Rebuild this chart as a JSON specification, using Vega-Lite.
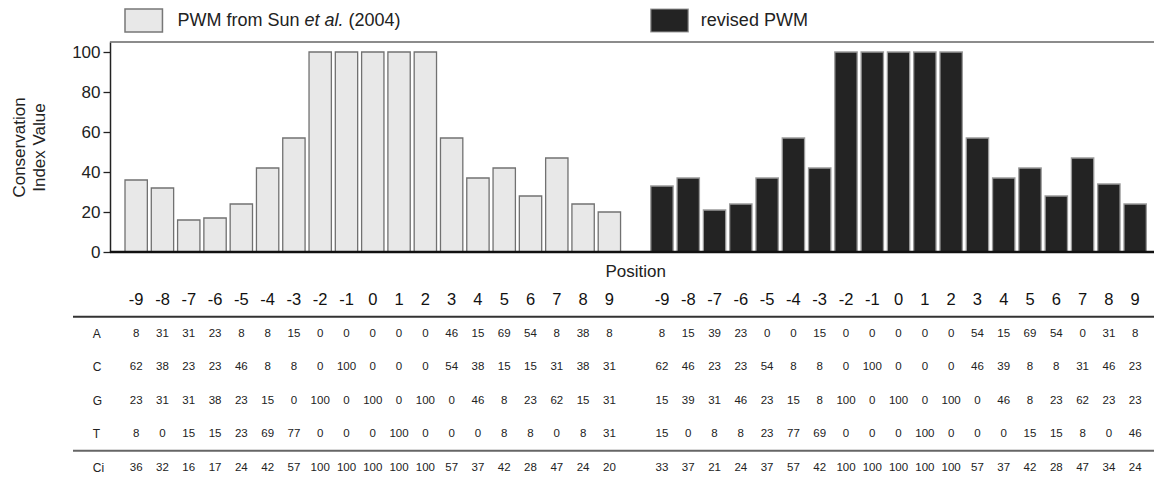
{
  "$schema": "https://vega.github.io/schema/vega-lite/v6.json",
  "width": 1081,
  "height": 435,
  "autosize": "none",
  "padding": {"left": 73, "top": 42, "right": 0, "bottom": 0},
  "background": "white",
  "config": {
    "view": {"stroke": null},
    "font": "Liberation Sans",
    "text": {"font": "Liberation Sans"}
  },
  "datasets": {
    "pwm": [
      {"set": "Sun", "key": "S-9", "pos": "-9", "A": 8, "C": 62, "G": 23, "T": 8, "Ci": 36},
      {"set": "Sun", "key": "S-8", "pos": "-8", "A": 31, "C": 38, "G": 31, "T": 0, "Ci": 32},
      {"set": "Sun", "key": "S-7", "pos": "-7", "A": 31, "C": 23, "G": 31, "T": 15, "Ci": 16},
      {"set": "Sun", "key": "S-6", "pos": "-6", "A": 23, "C": 23, "G": 38, "T": 15, "Ci": 17},
      {"set": "Sun", "key": "S-5", "pos": "-5", "A": 8, "C": 46, "G": 23, "T": 23, "Ci": 24},
      {"set": "Sun", "key": "S-4", "pos": "-4", "A": 8, "C": 8, "G": 15, "T": 69, "Ci": 42},
      {"set": "Sun", "key": "S-3", "pos": "-3", "A": 15, "C": 8, "G": 0, "T": 77, "Ci": 57},
      {"set": "Sun", "key": "S-2", "pos": "-2", "A": 0, "C": 0, "G": 100, "T": 0, "Ci": 100},
      {"set": "Sun", "key": "S-1", "pos": "-1", "A": 0, "C": 100, "G": 0, "T": 0, "Ci": 100},
      {"set": "Sun", "key": "S0", "pos": "0", "A": 0, "C": 0, "G": 100, "T": 0, "Ci": 100},
      {"set": "Sun", "key": "S1", "pos": "1", "A": 0, "C": 0, "G": 0, "T": 100, "Ci": 100},
      {"set": "Sun", "key": "S2", "pos": "2", "A": 0, "C": 0, "G": 100, "T": 0, "Ci": 100},
      {"set": "Sun", "key": "S3", "pos": "3", "A": 46, "C": 54, "G": 0, "T": 0, "Ci": 57},
      {"set": "Sun", "key": "S4", "pos": "4", "A": 15, "C": 38, "G": 46, "T": 0, "Ci": 37},
      {"set": "Sun", "key": "S5", "pos": "5", "A": 69, "C": 15, "G": 8, "T": 8, "Ci": 42},
      {"set": "Sun", "key": "S6", "pos": "6", "A": 54, "C": 15, "G": 23, "T": 8, "Ci": 28},
      {"set": "Sun", "key": "S7", "pos": "7", "A": 8, "C": 31, "G": 62, "T": 0, "Ci": 47},
      {"set": "Sun", "key": "S8", "pos": "8", "A": 38, "C": 38, "G": 15, "T": 8, "Ci": 24},
      {"set": "Sun", "key": "S9", "pos": "9", "A": 8, "C": 31, "G": 31, "T": 31, "Ci": 20},
      {"set": "revised", "key": "R-9", "pos": "-9", "A": 8, "C": 62, "G": 15, "T": 15, "Ci": 33},
      {"set": "revised", "key": "R-8", "pos": "-8", "A": 15, "C": 46, "G": 39, "T": 0, "Ci": 37},
      {"set": "revised", "key": "R-7", "pos": "-7", "A": 39, "C": 23, "G": 31, "T": 8, "Ci": 21},
      {"set": "revised", "key": "R-6", "pos": "-6", "A": 23, "C": 23, "G": 46, "T": 8, "Ci": 24},
      {"set": "revised", "key": "R-5", "pos": "-5", "A": 0, "C": 54, "G": 23, "T": 23, "Ci": 37},
      {"set": "revised", "key": "R-4", "pos": "-4", "A": 0, "C": 8, "G": 15, "T": 77, "Ci": 57},
      {"set": "revised", "key": "R-3", "pos": "-3", "A": 15, "C": 8, "G": 8, "T": 69, "Ci": 42},
      {"set": "revised", "key": "R-2", "pos": "-2", "A": 0, "C": 0, "G": 100, "T": 0, "Ci": 100},
      {"set": "revised", "key": "R-1", "pos": "-1", "A": 0, "C": 100, "G": 0, "T": 0, "Ci": 100},
      {"set": "revised", "key": "R0", "pos": "0", "A": 0, "C": 0, "G": 100, "T": 0, "Ci": 100},
      {"set": "revised", "key": "R1", "pos": "1", "A": 0, "C": 0, "G": 0, "T": 100, "Ci": 100},
      {"set": "revised", "key": "R2", "pos": "2", "A": 0, "C": 0, "G": 100, "T": 0, "Ci": 100},
      {"set": "revised", "key": "R3", "pos": "3", "A": 54, "C": 46, "G": 0, "T": 0, "Ci": 57},
      {"set": "revised", "key": "R4", "pos": "4", "A": 15, "C": 39, "G": 46, "T": 0, "Ci": 37},
      {"set": "revised", "key": "R5", "pos": "5", "A": 69, "C": 8, "G": 8, "T": 15, "Ci": 42},
      {"set": "revised", "key": "R6", "pos": "6", "A": 54, "C": 8, "G": 23, "T": 15, "Ci": 28},
      {"set": "revised", "key": "R7", "pos": "7", "A": 0, "C": 31, "G": 62, "T": 8, "Ci": 47},
      {"set": "revised", "key": "R8", "pos": "8", "A": 31, "C": 46, "G": 23, "T": 0, "Ci": 34},
      {"set": "revised", "key": "R9", "pos": "9", "A": 8, "C": 23, "G": 23, "T": 46, "Ci": 24}
    ]
  },
  "data": {"name": "pwm"},
  "resolve": {"scale": {"y": "independent"}},
  "layer": [
    {
      "layer": [
        {
          "mark": {"type": "bar", "strokeWidth": 1.3},
          "encoding": {
            "x": {
              "field": "key", "type": "nominal", "axis": null, "sort": null,
              "scale": {
                "type": "band",
                "domain": ["lbl", "S-9", "S-8", "S-7", "S-6", "S-5", "S-4", "S-3", "S-2", "S-1", "S0", "S1", "S2", "S3", "S4", "S5", "S6", "S7", "S8", "S9", "gap", "R-9", "R-8", "R-7", "R-6", "R-5", "R-4", "R-3", "R-2", "R-1", "R0", "R1", "R2", "R3", "R4", "R5", "R6", "R7", "R8", "R9", "end"],
                "range": [23.74, 1101.6],
                "paddingInner": 0.15,
                "paddingOuter": 0.075
              }
            },
            "y": {
              "field": "Ci", "type": "quantitative",
              "scale": {"domain": [0, 105], "range": [210, 0], "nice": false},
              "axis": {
                "values": [0, 20, 40, 60, 80, 100],
                "offset": -37,
                "grid": false,
                "title": ["Conservation", "Index Value"],
                "titleFontSize": 17,
                "titleFontWeight": "normal",
                "titleColor": "#222",
                "titleLineHeight": 20,
                "titlePadding": 23,
                "labelFontSize": 17,
                "labelColor": "#222",
                "labelPadding": 3,
                "tickSize": 7,
                "tickColor": "#222",
                "tickWidth": 1.3,
                "domainColor": "#222",
                "domainWidth": 1.5
              }
            },
            "fill": {"field": "set", "type": "nominal", "legend": null, "scale": {"domain": ["Sun", "revised"], "range": ["#e8e8e8", "#232323"]}},
            "stroke": {"field": "set", "type": "nominal", "legend": null, "scale": {"domain": ["Sun", "revised"], "range": ["#717171", "#9a9a9a"]}}
          }
        },
        {
          "data": {"values": [{}]},
          "mark": {"type": "rule", "color": "#666", "strokeWidth": 1.5},
          "encoding": {
            "x": {"datum": "lbl", "type": "nominal", "bandPosition": 0.5, "axis": null},
            "x2": {"datum": "end"},
            "y": {"datum": 105, "type": "quantitative"}
          }
        },
        {
          "data": {"values": [{}]},
          "mark": {"type": "rule", "color": "#111", "strokeWidth": 2.5},
          "encoding": {
            "x": {"datum": "lbl", "type": "nominal", "bandPosition": 0.5, "axis": null},
            "x2": {"datum": "end"},
            "y": {"datum": 0, "type": "quantitative"}
          }
        },
        {
          "data": {"values": [{}]},
          "mark": {"type": "rect", "fill": "#e8e8e8", "stroke": "#777", "strokeWidth": 1.5},
          "encoding": {
            "x": {"datum": "S-9", "type": "nominal", "bandPosition": 0, "axis": null},
            "x2": {"datum": "S-8"},
            "y": {"datum": 121.5, "type": "quantitative"},
            "y2": {"datum": 110}
          }
        },
        {
          "data": {"values": [{}]},
          "mark": {"type": "rect", "fill": "#232323", "stroke": "#999", "strokeWidth": 1.2},
          "encoding": {
            "x": {"datum": "R-9", "type": "nominal", "bandPosition": 0, "axis": null},
            "x2": {"datum": "R-8"},
            "y": {"datum": 121.5, "type": "quantitative"},
            "y2": {"datum": 110}
          }
        },
        {
          "data": {"values": [{}]},
          "mark": {"type": "text", "text": "PWM from Sun", "align": "left", "baseline": "middle", "fontSize": 18, "color": "#222"},
          "encoding": {
            "x": {"datum": "S-7", "type": "nominal", "bandPosition": 0, "axis": null},
            "y": {"datum": 115.5, "type": "quantitative"}
          }
        },
        {
          "data": {"values": [{}]},
          "mark": {"type": "text", "text": "et al.", "fontStyle": "italic", "align": "left", "baseline": "middle", "fontSize": 18, "color": "#222", "dx": 127},
          "encoding": {
            "x": {"datum": "S-7", "type": "nominal", "bandPosition": 0, "axis": null},
            "y": {"datum": 115.5, "type": "quantitative"}
          }
        },
        {
          "data": {"values": [{}]},
          "mark": {"type": "text", "text": "(2004)", "align": "left", "baseline": "middle", "fontSize": 18, "color": "#222", "dx": 171},
          "encoding": {
            "x": {"datum": "S-7", "type": "nominal", "bandPosition": 0, "axis": null},
            "y": {"datum": 115.5, "type": "quantitative"}
          }
        },
        {
          "data": {"values": [{}]},
          "mark": {"type": "text", "text": "revised PWM", "align": "left", "baseline": "middle", "fontSize": 18, "color": "#222", "dx": -2.5},
          "encoding": {
            "x": {"datum": "R-7", "type": "nominal", "bandPosition": 0, "axis": null},
            "y": {"datum": 115.5, "type": "quantitative"}
          }
        }
      ]
    },
    {
      "layer": [
        {
          "data": {"values": [{}]},
          "mark": {"type": "rule", "color": "#333", "strokeWidth": 2},
          "encoding": {
            "y": {
              "datum": "A", "type": "nominal", "bandPosition": 0, "axis": null,
              "scale": {"type": "band", "domain": ["pos", "hdr", "A", "C", "G", "T", "Ci"], "range": [207.75, 442.25], "paddingInner": 0, "paddingOuter": 0}
            }
          }
        },
        {
          "data": {"values": [{}]},
          "mark": {"type": "rule", "color": "#666", "strokeWidth": 2},
          "encoding": {
            "y": {"datum": "Ci", "type": "nominal", "bandPosition": 0, "axis": null}
          }
        },
        {
          "data": {"values": [{}]},
          "mark": {"type": "text", "text": "Position", "align": "center", "baseline": "middle", "fontSize": 17, "color": "#222", "dy": 5},
          "encoding": {
            "x": {"datum": "gap", "type": "nominal", "axis": null},
            "y": {"datum": "pos", "type": "nominal", "axis": null}
          }
        },
        {
          "mark": {"type": "text", "align": "center", "baseline": "middle", "fontSize": 16.5, "color": "#111"},
          "encoding": {
            "x": {"field": "key", "type": "nominal", "axis": null},
            "y": {"datum": "hdr", "type": "nominal", "axis": null},
            "text": {"field": "pos", "type": "nominal"}
          }
        },
        {
          "transform": [{"fold": ["A", "C", "G", "T", "Ci"], "as": ["base", "value"]}],
          "mark": {"type": "text", "align": "center", "baseline": "middle", "fontSize": 11.5, "color": "#222"},
          "encoding": {
            "x": {"field": "key", "type": "nominal", "axis": null},
            "y": {"field": "base", "type": "nominal", "axis": null},
            "text": {"field": "value", "type": "quantitative"}
          }
        },
        {
          "transform": [
            {"fold": ["A", "C", "G", "T", "Ci"], "as": ["base", "value"]},
            {"filter": "datum.key === 'S-9'"}
          ],
          "mark": {"type": "text", "align": "left", "baseline": "middle", "fontSize": 12, "color": "#222", "dx": -6},
          "encoding": {
            "x": {"datum": "lbl", "type": "nominal", "bandPosition": 0, "axis": null},
            "y": {"field": "base", "type": "nominal", "axis": null},
            "text": {"field": "base", "type": "nominal"}
          }
        }
      ]
    }
  ]
}
